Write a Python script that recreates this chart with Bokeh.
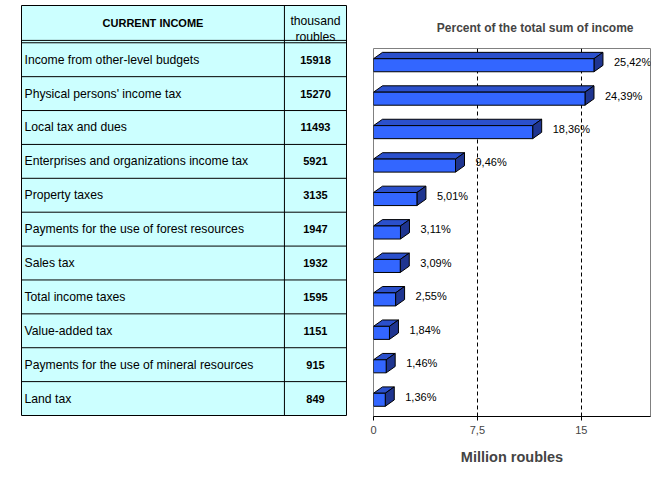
from bokeh.plotting import figure
from bokeh.layouts import row, column
from bokeh.models import Range1d, FixedTicker, ColumnDataSource, LabelSet
from bokeh.core.properties import value
from bokeh.embed import file_html
from bokeh.resources import INLINE

# ---------------- data ----------------
categories = [
    "Income from other-level budgets",
    "Physical persons' income tax",
    "Local tax  and dues",
    "Enterprises and organizations income tax",
    "Property taxes",
    "Payments for the use of forest resources",
    "Sales tax",
    "Total income taxes",
    "Value-added tax",
    "Payments for the use of mineral resources",
    "Land tax",
]
income_thousand = [15918, 15270, 11493, 5921, 3135, 1947, 1932, 1595, 1151, 915, 849]
percent_labels = ["25,42%", "24,39%", "18,36%", "9,46%", "5,01%", "3,11%",
                  "3,09%", "2,55%", "1,84%", "1,46%", "1,36%"]
x_ticks = [0.0, 7.5, 15.0]
x_tick_labels = ["0", "7,5", "15"]
header_label = "CURRENT INCOME"
header_unit = ["thousand", "roubles"]
chart_title = "Percent of the total sum of income"
x_axis_title = "Million roubles"

FONT = "Liberation Sans"
n = len(categories)

# ---------------- table (left) ----------------
HEADER_H = 1.03
GAP = 0.07
COL_SPLIT = 0.809
top = n + GAP + HEADER_H

tbl = figure(width=360, height=480, x_range=Range1d(0, 1), y_range=Range1d(0, top),
             x_axis_location=None, y_axis_location=None, toolbar_location=None,
             output_backend="svg", min_border_left=21, min_border_right=14,
             min_border_top=5, min_border_bottom=65)
tbl.grid.visible = False
tbl.background_fill_color = "#CCFFFF"
tbl.border_fill_color = "white"
tbl.outline_line_color = "black"
tbl.outline_line_width = 1

row_lines = list(range(1, n + 1)) + [n + GAP]
tbl.segment(x0=[0] * len(row_lines), x1=[1] * len(row_lines), y0=row_lines, y1=row_lines,
            line_color="black", line_width=1)
tbl.segment(x0=[COL_SPLIT], x1=[COL_SPLIT], y0=[0], y1=[top], line_color="black", line_width=1)

centers = [n - 1 - i + 0.5 for i in range(n)]
tbl.text(x=[0] * n, y=centers, text=categories, x_offset=3, text_baseline="middle",
         text_align="left", text_font=value(FONT), text_font_size="12.2px", text_color="black")
tbl.text(x=[(COL_SPLIT + 1) / 2] * n, y=centers, text=[str(v) for v in income_thousand],
         text_baseline="middle", text_align="center", text_font=value(FONT),
         text_font_size="11px", text_font_style="bold", text_color="black")
tbl.text(x=[COL_SPLIT / 2], y=[n + GAP + HEADER_H / 2], text=[header_label],
         text_baseline="middle", text_align="center", text_font=value(FONT),
         text_font_size="11px", text_font_style="bold", text_color="black")
tbl.text(x=[(COL_SPLIT + 1) / 2] * 2, y=[n + GAP] * 2, text=header_unit,
         y_offset=[-19, -3], text_baseline="alphabetic", text_align="center",
         text_font=value(FONT), text_font_size="12.2px", text_color="black")

# ---------------- chart (right) ----------------
vals = [v / 1000 for v in income_thousand]
H = 0.39    # front-face thickness (category units)
DX = 0.65   # depth, x (data units)
DY = 0.19   # depth, y (category units)

ch = figure(width=300, height=480, x_range=Range1d(0, 20), y_range=Range1d(0, n),
            y_axis_location=None, toolbar_location=None, output_backend="svg",
            min_border_left=13, min_border_right=10, min_border_top=48,
            min_border_bottom=64, title=chart_title)
ch.background_fill_color = "white"
ch.border_fill_color = "white"
ch.outline_line_color = "#808080"
ch.outline_line_width = 1

ch.title.align = "right"
ch.title.offset = 17
ch.title.text_font = FONT
ch.title.text_font_size = "12px"
ch.title.text_font_style = "bold"
if "standoff" in ch.title.properties():
    ch.title.standoff = 28

ch.ygrid.visible = False
ch.xgrid.ticker = FixedTicker(ticks=x_ticks[1:])
ch.xgrid.grid_line_color = "black"
ch.xgrid.grid_line_dash = "4 3"
ch.xgrid.grid_line_width = 1

ax = ch.xaxis[0]
ax.ticker = FixedTicker(ticks=x_ticks)
ax.major_label_overrides = dict(zip(x_ticks, x_tick_labels))
ax.axis_line_color = "black"
ax.major_tick_line_color = "black"
ax.major_tick_out = 4
ax.major_tick_in = 0
ax.minor_tick_line_color = None
ax.major_label_text_font = FONT
ax.major_label_text_font_size = "11px"
ax.major_label_standoff = 5
ax.axis_label = x_axis_title
ax.axis_label_text_font = FONT
ax.axis_label_text_font_size = "14.5px"
ax.axis_label_text_font_style = "bold"
ax.axis_label_standoff = 12

top_xs, top_ys, side_xs, side_ys = [], [], [], []
for v, c in zip(vals, centers):
    y0, y1 = c - H / 2, c + H / 2
    top_xs.append([0, v, v + DX, DX])
    top_ys.append([y1, y1, y1 + DY, y1 + DY])
    side_xs.append([v, v + DX, v + DX, v])
    side_ys.append([y0, y0 + DY, y1 + DY, y1])

ch.patches(xs=top_xs, ys=top_ys, fill_color="#2B50CC", line_color="black", line_width=1)
ch.patches(xs=side_xs, ys=side_ys, fill_color="#1F3590", line_color="black", line_width=1)
ch.hbar(y=centers, left=0, right=vals, height=H, fill_color="#3366FF",
        line_color="black", line_width=1)

lab_src = ColumnDataSource(data=dict(
    x=[v + DX for v in vals], y=[c + DY / 2 for c in centers], t=percent_labels))
ch.add_layout(LabelSet(x="x", y="y", text="t", source=lab_src, x_offset=11,
                       text_baseline="middle", text_align="left", text_font=value(FONT),
                       text_font_size="11px", text_color="black"))

layout = row(column(tbl), column(ch))
open("out.html", "w").write(file_html(layout, INLINE))
